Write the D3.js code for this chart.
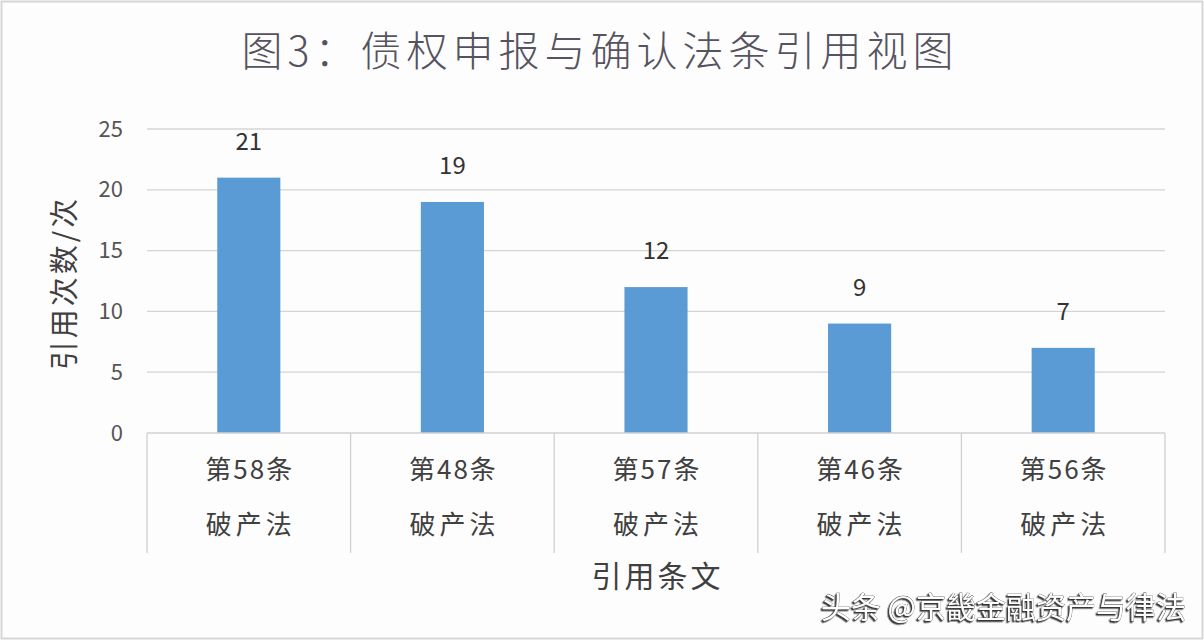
<!DOCTYPE html>
<html>
<head>
<meta charset="utf-8">
<script src="https://cdn.jsdelivr.net/npm/d3@7/dist/d3.min.js"></script>
<style>
  body { margin: 0; background: #fff; }
  svg text { font-family: "Noto Sans CJK SC", "Noto Sans", sans-serif; }
</style>
</head>
<body>
<div class="chart"></div>
<script>
// data
const articles = ["第58条", "第48条", "第57条", "第46条", "第56条"];
const lawName = ["破产法", "破产法", "破产法", "破产法", "破产法"];
const counts = [21, 19, 12, 9, 7];
const yTicks = [0, 5, 10, 15, 20, 25];

const W = 1204, H = 640;
const margin = {top: 129, right: 39, bottom: 207, left: 147};
const width = W - margin.left - margin.right;
const height = H - margin.top - margin.bottom;

const svg = d3.select(".chart").append("svg")
  .attr("width", W)
  .attr("height", H);

const defs = svg.append("defs");
const f = defs.append("filter").attr("id", "shadow");
f.append("feDropShadow")
  .attr("dx", -1.5).attr("dy", 1.5)
  .attr("stdDeviation", 0.4)
  .attr("flood-color", "#222")
  .attr("flood-opacity", 0.9);

// background + light border
svg.append("rect")
  .attr("x", 1.5).attr("y", 1.5)
  .attr("width", W - 3).attr("height", H - 3)
  .attr("fill", "#fdfdfd")
  .attr("stroke", "#d6d6d6")
  .attr("stroke-width", 2);

// title
svg.append("text")
  .attr("x", 600)
  .attr("y", 66)
  .attr("text-anchor", "middle")
  .attr("font-size", 41)
  .attr("font-weight", 300)
  .attr("letter-spacing", 5)
  .attr("fill", "#55535f")
  .text("图3：债权申报与确认法条引用视图");

const g = svg.append("g")
  .attr("transform", "translate(" + margin.left + "," + margin.top + ")");

const x = d3.scaleBand()
  .domain(articles)
  .range([0, width])
  .paddingInner(0.69)
  .paddingOuter(0.345);

const band = width / articles.length;

const y = d3.scaleLinear()
  .domain([0, 25])
  .range([height, 0]);

// gridlines
g.append("g")
  .selectAll("line")
  .data(yTicks.filter(d => d > 0))
  .enter().append("line")
  .attr("x1", 0).attr("x2", width)
  .attr("y1", d => y(d)).attr("y2", d => y(d))
  .attr("stroke", "#d4d4d4")
  .attr("stroke-width", 1.3);

// y axis labels
const yAxis = g.append("g")
  .call(d3.axisLeft(y).tickValues(yTicks).tickSize(0).tickPadding(24));
yAxis.select(".domain").remove();
yAxis.selectAll("text")
  .attr("font-size", 22)
  .attr("fill", "#555")
  .style("font-family", "'Noto Sans CJK SC', sans-serif");

// bars
g.selectAll(".bar")
  .data(counts)
  .enter().append("rect")
  .attr("class", "bar")
  .attr("x", (d, i) => x(articles[i]))
  .attr("y", d => y(d))
  .attr("width", x.bandwidth())
  .attr("height", d => height - y(d))
  .attr("fill", "#5b9bd5");

// value labels
g.selectAll(".val")
  .data(counts)
  .enter().append("text")
  .attr("class", "val")
  .attr("x", (d, i) => x(articles[i]) + x.bandwidth() / 2)
  .attr("y", d => y(d) - 28)
  .attr("text-anchor", "middle")
  .attr("font-size", 24)
  .attr("fill", "#333")
  .text(d => d);

// category axis line + separators
g.append("line")
  .attr("x1", 0).attr("x2", width)
  .attr("y1", height).attr("y2", height)
  .attr("stroke", "#d0d0d0")
  .attr("stroke-width", 1.3);

g.selectAll(".sep")
  .data(d3.range(articles.length + 1))
  .enter().append("line")
  .attr("class", "sep")
  .attr("x1", d => d * band).attr("x2", d => d * band)
  .attr("y1", height).attr("y2", height + 120)
  .attr("stroke", "#d0d0d0")
  .attr("stroke-width", 1.3);

// category labels (two lines)
const cat = g.selectAll(".cat")
  .data(articles)
  .enter().append("g")
  .attr("class", "cat")
  .attr("transform", d => "translate(" + (x(d) + x.bandwidth() / 2) + "," + height + ")");

cat.append("text")
  .attr("x", 1)
  .attr("y", 46)
  .attr("text-anchor", "middle")
  .attr("font-size", 26)
  .attr("letter-spacing", 2)
  .attr("fill", "#404040")
  .text(d => d);

cat.append("text")
  .attr("x", 2)
  .attr("y", 101)
  .attr("text-anchor", "middle")
  .attr("font-size", 26)
  .attr("letter-spacing", 4)
  .attr("fill", "#404040")
  .text((d, i) => lawName[i]);

// axis titles
svg.append("text")
  .attr("x", margin.left + width / 2 + 1.5)
  .attr("y", 587)
  .attr("text-anchor", "middle")
  .attr("font-size", 30)
  .attr("letter-spacing", 3)
  .attr("fill", "#404040")
  .text("引用条文");

svg.append("text")
  .attr("transform", "translate(75," + 283 + ") rotate(-90)")
  .attr("text-anchor", "middle")
  .attr("font-size", 29)
  .attr("letter-spacing", 3)
  .attr("fill", "#404040")
  .text("引用次数/次");

// watermark
svg.append("text")
  .attr("x", 1186)
  .attr("y", 618)
  .attr("text-anchor", "end")
  .attr("font-size", 30)
  .attr("fill", "#fff")
  .attr("stroke", "#333")
  .attr("stroke-width", 0.6)
  .style("paint-order", "stroke")
  .attr("filter", "url(#shadow)")
  .text("头条 @京畿金融资产与律法");
</script>
</body>
</html>
